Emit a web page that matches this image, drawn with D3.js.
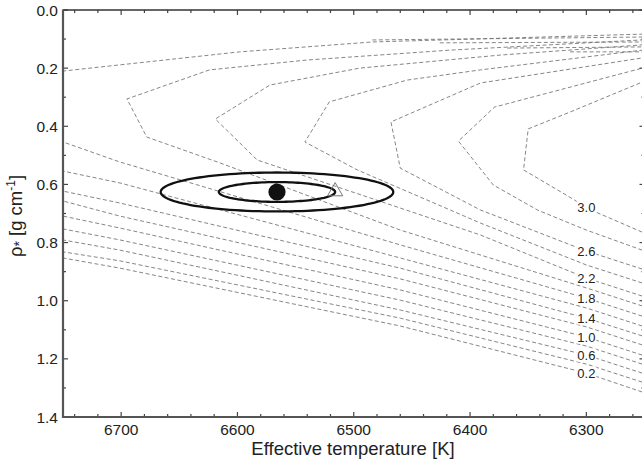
<!DOCTYPE html>
<html><head><meta charset="utf-8">
<script src="https://cdn.jsdelivr.net/npm/d3@7"></script>
<style>body{margin:0;background:#fff}svg{display:block;font-family:"Liberation Sans",Arial,sans-serif}</style>
</head><body><svg id="c" width="642" height="460"></svg>
<script>
// ---- data (Teff in K, rho in g cm^-1) ----
const ages = [0.2,0.4,0.6,0.8,1.0,1.2,1.4,1.6,1.8,2.0,2.2,2.4,2.6,2.8,3.0];
const labeledAges = [0.2,0.6,1.0,1.4,1.8,2.2,2.6,3.0];
const labelTeff = 6300;
const isoTeff = [
  [6252,6300,6460,6701,6750],
  [6252,6300,6460,6701,6750],
  [6252,6300,6460,6701,6750],
  [6252,6300,6460,6701,6750],
  [6252,6300,6460,6701,6750],
  [6252,6300,6460,6701,6750],
  [6252,6300,6460,6701,6750],
  [6252,6300,6460,6701,6750],
  [6252,6300,6460,6701,6750,6770,6750,6598,6484,6252],
  [6252,6300,6460,6615,6678,6695,6624,6540,6417,6252],
  [6252,6300,6391,6583,6619,6572,6495,6374,6252],
  [6252,6300,6391,6497,6542,6521,6454,6391,6252],
  [6252,6300,6391,6460,6468,6391,6252],
  [6252,6300,6342,6380,6410,6379,6252],
  [6252,6300,6310,6354,6350,6314,6252]
];
const isoRho = [
  [1.314,1.249,1.087,0.888,0.853],
  [1.280,1.218,1.060,0.863,0.832],
  [1.249,1.187,1.032,0.826,0.791],
  [1.218,1.156,0.998,0.791,0.753],
  [1.187,1.125,0.963,0.750,0.709],
  [1.152,1.090,0.925,0.709,0.657],
  [1.121,1.060,0.888,0.664,0.623],
  [1.087,1.025,0.853,0.595,0.554],
  [1.053,0.991,0.808,0.523,0.454,0.327,0.210,0.144,0.110,0.083],
  [1.018,0.956,0.757,0.526,0.437,0.306,0.206,0.172,0.138,0.103],
  [0.984,0.922,0.774,0.516,0.375,0.258,0.200,0.155,0.120],
  [0.939,0.877,0.733,0.550,0.454,0.316,0.241,0.206,0.138],
  [0.891,0.829,0.688,0.544,0.385,0.251,0.165],
  [0.826,0.757,0.688,0.602,0.451,0.334,0.200],
  [0.764,0.681,0.654,0.550,0.409,0.351,0.248]
];
const tailTeff = [[6484,6252],[6426,6252],[6368,6252],[6314,6252]];
const tailRho  = [[0.103,0.093],[0.113,0.110],[0.131,0.127],[0.144,0.144]];
const starTeff = 6566, starRho = 0.626;
const sigmaTeff = [50,100], sigmaRho = [0.034,0.067];
const refTeff = 6516, refRho = 0.624;
const xMajor = [6700,6600,6500,6400,6300];
const yMajor = [0.0,0.2,0.4,0.6,0.8,1.0,1.2,1.4];

// ---- layout ----
const svg = d3.select("#c");
const L = 63, T = 10, R = 644.5, B = 417;
const x = d3.scaleLinear().domain([6750,6250]).range([L,R]);
const y = d3.scaleLinear().domain([0,1.4]).range([T,B]);

svg.append("clipPath").attr("id","clip").append("rect")
  .attr("x",L).attr("y",T).attr("width",R-L).attr("height",B-T);
const plot = svg.append("g").attr("clip-path","url(#clip)");
const line = d3.line().x(d=>x(d[0])).y(d=>y(d[1]));

const isoG = plot.append("g");
ages.forEach((a,i)=>{
  const pts = isoTeff[i].map((t,j)=>[t,isoRho[i][j]]);
  isoG.append("path").attr("d",line(pts)).attr("fill","none")
    .attr("stroke","#707070").attr("stroke-width",0.85).attr("stroke-dasharray","4 2.5");
});
tailTeff.forEach((tt,i)=>{
  const pts = tt.map((t,j)=>[t,tailRho[i][j]]);
  isoG.append("path").attr("d",line(pts)).attr("fill","none")
    .attr("stroke","#707070").attr("stroke-width",0.85).attr("stroke-dasharray","4 2.5");
});

// labels
labeledAges.forEach(a=>{
  const i = ages.findIndex(v=>Math.abs(v-a)<1e-9);
  const j = isoTeff[i].indexOf(labelTeff);
  const cx = x(labelTeff), cy = y(isoRho[i][j]);
  const g = plot.append("g");
  const txt = g.append("text").attr("x",cx).attr("y",cy).attr("text-anchor","middle")
    .attr("dominant-baseline","central").attr("font-size",13).attr("fill","#222").text(a.toFixed(1));
  const bb = txt.node().getBBox();
  g.insert("rect","text").attr("x",bb.x-1).attr("y",bb.y+1).attr("width",bb.width+2).attr("height",bb.height-2).attr("fill","#fff");
});

// error ellipses
const ell = d3.range(0,361,3).map(d=>d*Math.PI/180);
sigmaTeff.forEach((s,k)=>{
  const pts = ell.map(th=>[starTeff + s*Math.cos(th), starRho + sigmaRho[k]*Math.sin(th)]);
  plot.append("path").attr("d",line(pts)+"Z").attr("fill","none").attr("stroke","#111").attr("stroke-width",2.3);
});
plot.append("circle").attr("cx",x(starTeff)).attr("cy",y(starRho)).attr("r",8.6).attr("fill","#111");
plot.append("path").attr("d",d3.symbol(d3.symbolTriangle,100)())
  .attr("transform",`translate(${x(refTeff)},${y(refRho)})`).attr("fill","none").attr("stroke","#777").attr("stroke-width",1);

// ---- axes ----
const ax = svg.append("g");
const xt = d3.range(6740,6250,-20);
xt.forEach(t=>{
  const maj = t%100===0, len = maj?5:3;
  ax.append("line").attr("x1",x(t)).attr("x2",x(t)).attr("y1",B).attr("y2",B-len).attr("stroke","#444").attr("stroke-width",1.2);
  ax.append("line").attr("x1",x(t)).attr("x2",x(t)).attr("y1",T).attr("y2",T+len).attr("stroke","#444").attr("stroke-width",1.2);
});
const yt = d3.range(0,15).map(k=>k*0.1);
yt.forEach((v,k)=>{
  const maj = k%2===0, len = maj?5:3;
  ax.append("line").attr("x1",L).attr("x2",L+len).attr("y1",y(v)).attr("y2",y(v)).attr("stroke","#444").attr("stroke-width",1.2);
  ax.append("line").attr("x1",R).attr("x2",R-len).attr("y1",y(v)).attr("y2",y(v)).attr("stroke","#444").attr("stroke-width",1.2);
});
ax.append("line").attr("x1",L).attr("x2",R).attr("y1",T).attr("y2",T).attr("stroke","#333").attr("stroke-width",1.3);
ax.append("line").attr("x1",R).attr("x2",R).attr("y1",T).attr("y2",B).attr("stroke","#333").attr("stroke-width",1.3);
ax.append("line").attr("x1",L).attr("x2",L).attr("y1",T-0.5).attr("y2",B+1).attr("stroke","#555").attr("stroke-width",2.2);
ax.append("line").attr("x1",L-1).attr("x2",R).attr("y1",B).attr("y2",B).attr("stroke","#555").attr("stroke-width",2.2);

xMajor.forEach(t=>{
  ax.append("text").attr("x",x(t)).attr("y",B+17.5).attr("text-anchor","middle")
    .attr("font-size",15.5).attr("fill","#222").text(t);
});
yMajor.forEach(v=>{
  ax.append("text").attr("x",L-5).attr("y",y(v)).attr("text-anchor","end").attr("dominant-baseline","central")
    .attr("font-size",15.5).attr("fill","#222").text(v.toFixed(1));
});
svg.append("text").attr("x",353).attr("y",455).attr("text-anchor","middle")
  .attr("font-size",18.5).attr("fill","#222").text("Effective temperature [K]");
const yl = svg.append("text").attr("transform","translate(22,216) rotate(-90)").attr("text-anchor","middle")
  .attr("font-size",18.5).attr("fill","#222");
yl.append("tspan").text("ρ");
yl.append("tspan").attr("font-size",14).attr("dy",2).text("*");
yl.append("tspan").attr("dy",-2).text(" [g cm");
yl.append("tspan").attr("font-size",12).attr("dy",-7).text("-1");
yl.append("tspan").attr("dy",7).text("]");
</script></body></html>
